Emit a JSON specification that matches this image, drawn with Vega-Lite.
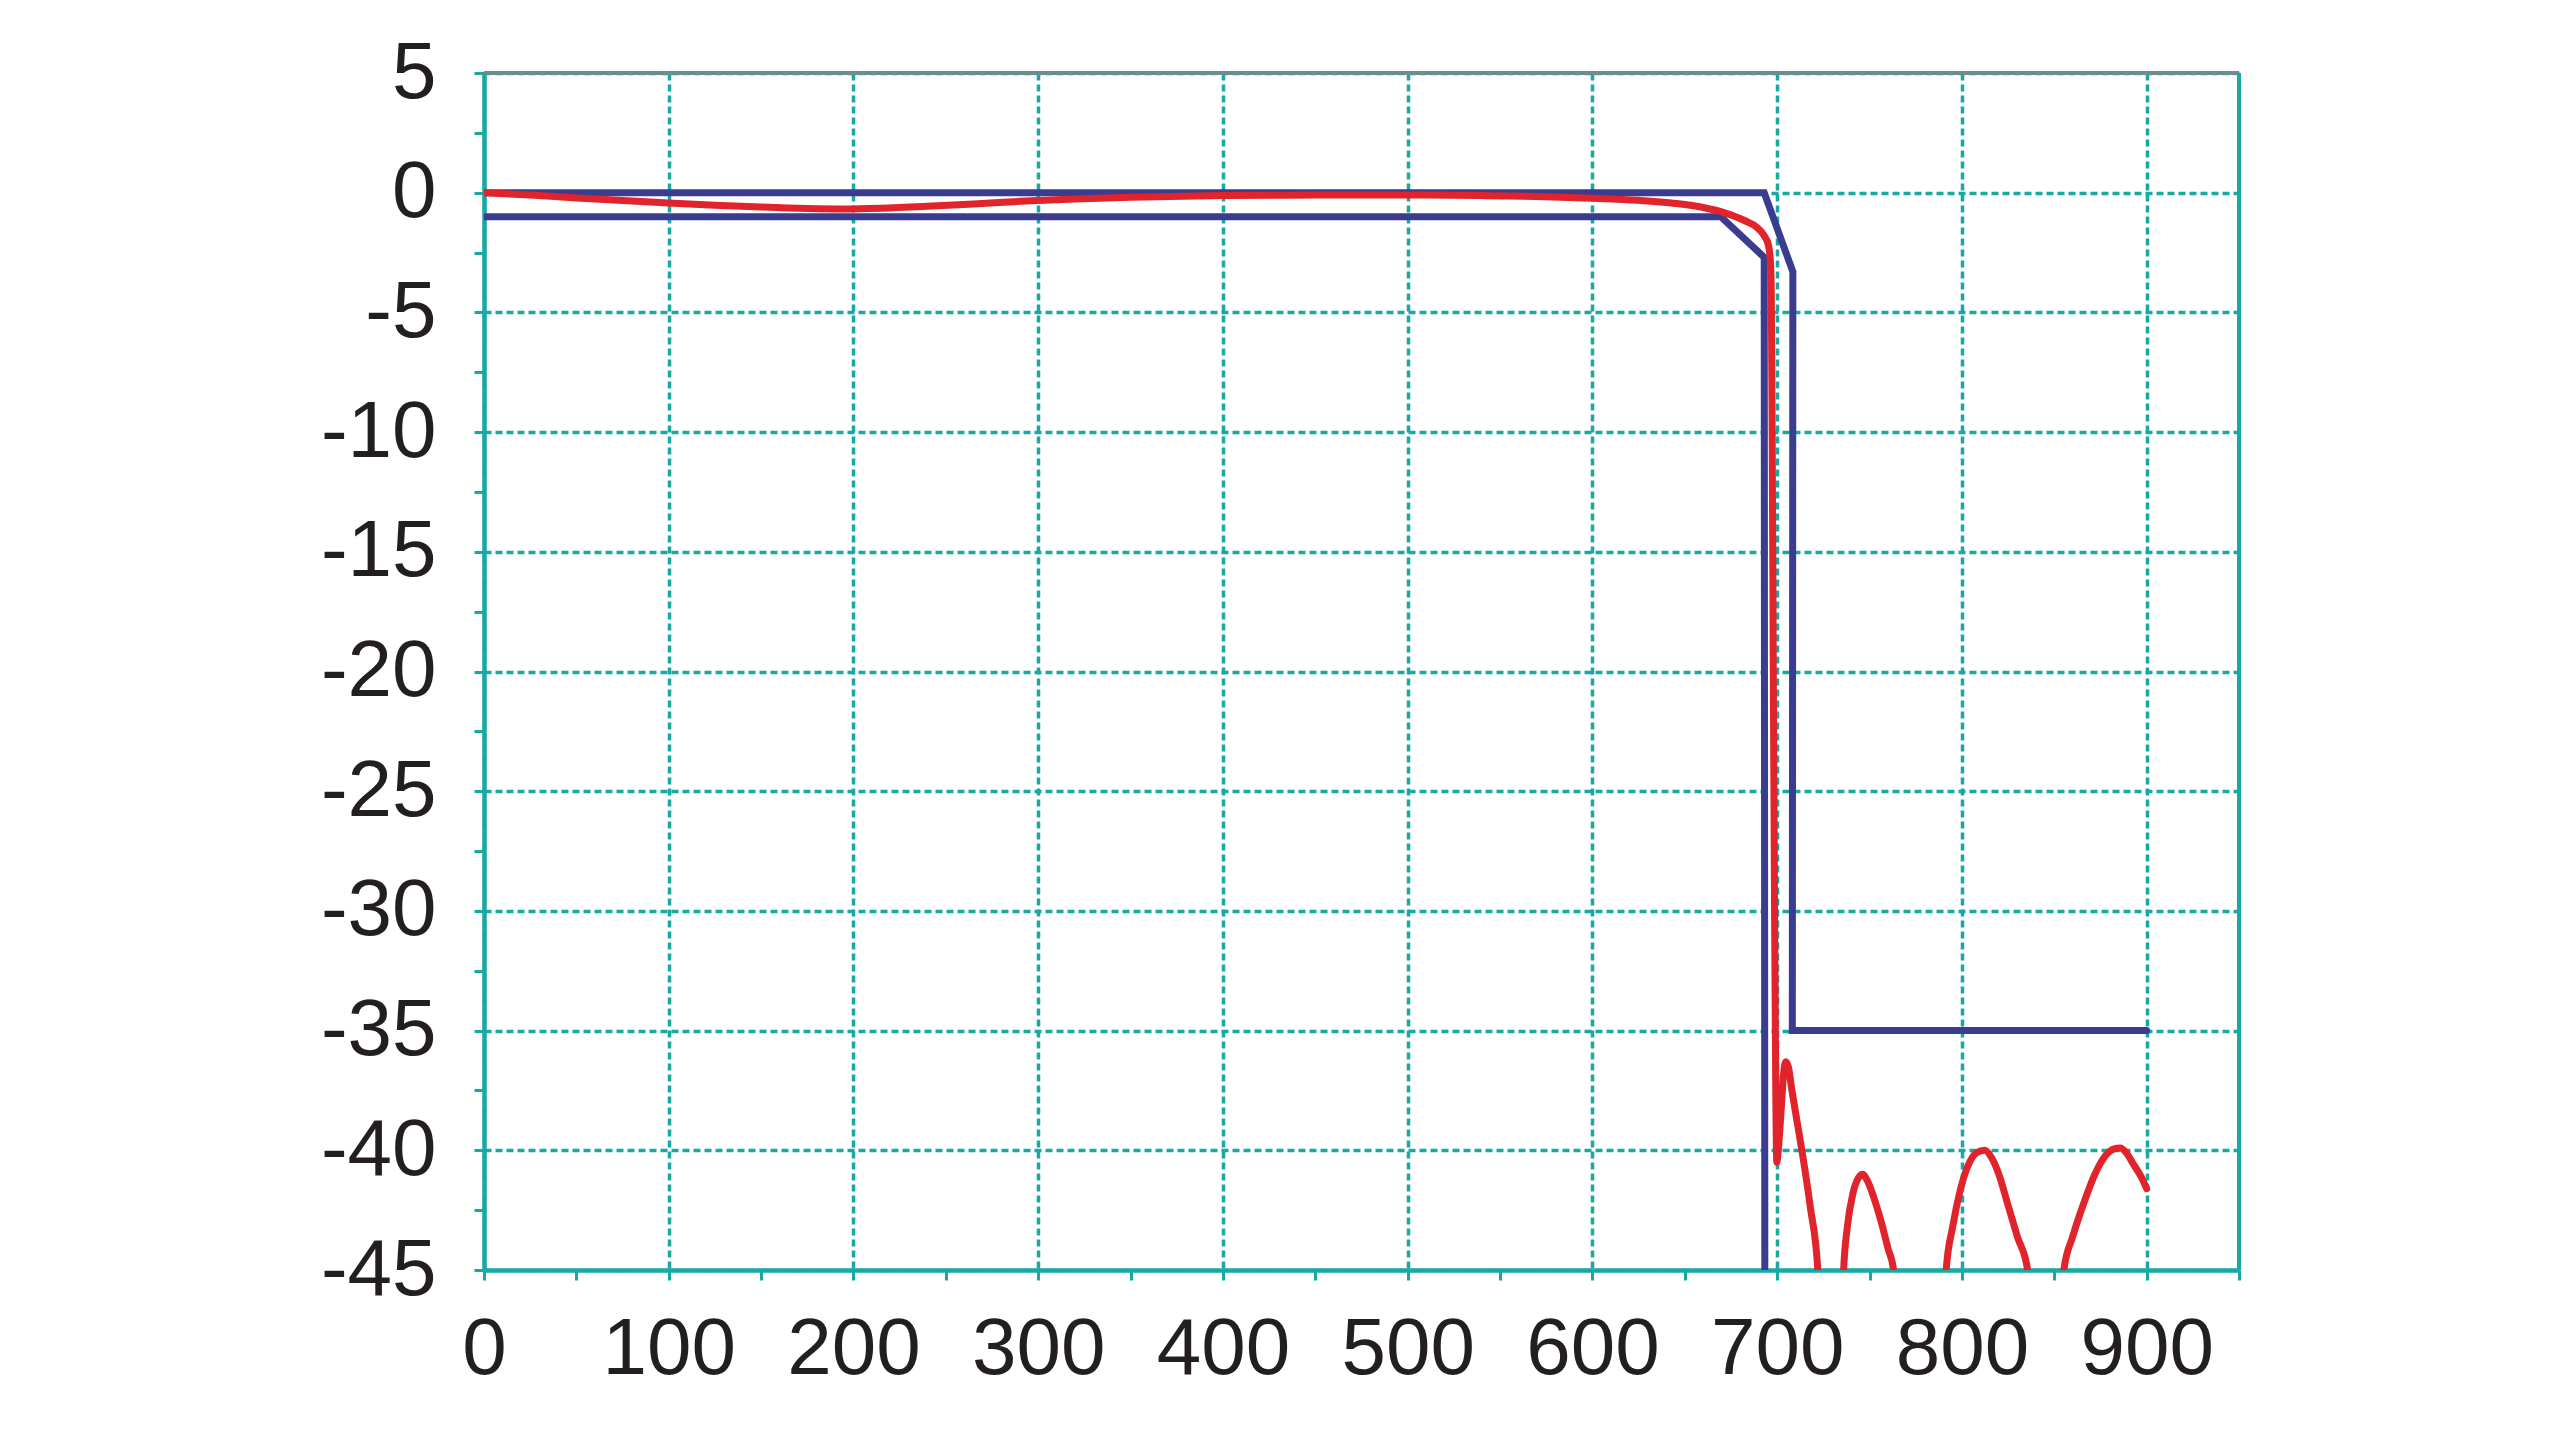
{
  "$schema": "https://vega.github.io/schema/vega-lite/v6.json",
  "autosize": {"type": "none"},
  "padding": {"left": 484, "top": 73, "right": 321, "bottom": 170},
  "width": 1755,
  "height": 1197,
  "background": "white",
  "config": {
    "view": {"stroke": null},
    "axis": {
      "domainColor": "#19a9a4",
      "domainWidth": 4.5,
      "tickColor": "#19a9a4",
      "tickWidth": 3,
      "tickSize": 10,
      "gridColor": "#19a9a4",
      "gridWidth": 3.5,
      "gridDash": [7, 4],
      "labelFont": "Liberation Sans",
      "labelFontSize": 80,
      "labelColor": "#231f20",
      "labelOverlap": false,
      "labelFlush": false,
      "title": null
    }
  },
  "data": {
    "values": [
      {"s": "upper", "x": 0, "y": 0},
      {"s": "upper", "x": 693, "y": 0},
      {"s": "upper", "x": 708.5, "y": -3.3},
      {"s": "upper", "x": 708.2, "y": -35},
      {"s": "upper", "x": 900, "y": -35},
      {"s": "lower", "x": 0, "y": -1},
      {"s": "lower", "x": 669.5, "y": -1},
      {"s": "lower", "x": 693, "y": -2.7},
      {"s": "lower", "x": 693.4, "y": -55},
      {"s": "resp", "x": 0, "y": 0},
      {"s": "resp", "x": 25, "y": -0.1},
      {"s": "resp", "x": 50, "y": -0.22},
      {"s": "resp", "x": 75, "y": -0.33},
      {"s": "resp", "x": 100, "y": -0.43},
      {"s": "resp", "x": 125, "y": -0.52},
      {"s": "resp", "x": 150, "y": -0.6},
      {"s": "resp", "x": 175, "y": -0.66},
      {"s": "resp", "x": 195, "y": -0.68},
      {"s": "resp", "x": 215, "y": -0.65},
      {"s": "resp", "x": 240, "y": -0.57},
      {"s": "resp", "x": 265, "y": -0.47},
      {"s": "resp", "x": 290, "y": -0.36},
      {"s": "resp", "x": 320, "y": -0.26},
      {"s": "resp", "x": 350, "y": -0.19},
      {"s": "resp", "x": 400, "y": -0.12},
      {"s": "resp", "x": 450, "y": -0.1},
      {"s": "resp", "x": 500, "y": -0.1},
      {"s": "resp", "x": 540, "y": -0.12},
      {"s": "resp", "x": 570, "y": -0.16},
      {"s": "resp", "x": 600, "y": -0.23},
      {"s": "resp", "x": 625, "y": -0.32},
      {"s": "resp", "x": 645, "y": -0.45},
      {"s": "resp", "x": 660, "y": -0.62},
      {"s": "resp", "x": 672, "y": -0.85},
      {"s": "resp", "x": 682, "y": -1.15},
      {"s": "resp", "x": 689, "y": -1.45},
      {"s": "resp", "x": 693, "y": -1.8},
      {"s": "resp", "x": 695.3, "y": -2.2},
      {"s": "resp", "x": 696.3, "y": -2.8},
      {"s": "resp", "x": 696.8, "y": -4},
      {"s": "resp", "x": 697.3, "y": -10},
      {"s": "resp", "x": 697.9, "y": -20},
      {"s": "resp", "x": 698.6, "y": -30},
      {"s": "resp", "x": 699.2, "y": -37},
      {"s": "resp", "x": 699.8, "y": -40.5},
      {"s": "resp", "x": 700.5, "y": -40.1},
      {"s": "resp", "x": 702, "y": -38.5},
      {"s": "resp", "x": 703.5, "y": -36.8},
      {"s": "resp", "x": 704.6, "y": -36.3},
      {"s": "resp", "x": 706, "y": -36.5},
      {"s": "resp", "x": 708, "y": -37.5},
      {"s": "resp", "x": 711, "y": -38.9},
      {"s": "resp", "x": 714, "y": -40.3},
      {"s": "resp", "x": 718, "y": -42.4},
      {"s": "resp", "x": 722, "y": -45},
      {"s": "resp", "x": 724, "y": -52},
      {"s": "resp", "x": 734, "y": -52},
      {"s": "resp", "x": 736, "y": -45},
      {"s": "resp", "x": 738, "y": -43.2},
      {"s": "resp", "x": 741, "y": -41.8},
      {"s": "resp", "x": 744, "y": -41.15},
      {"s": "resp", "x": 746.3, "y": -41},
      {"s": "resp", "x": 749, "y": -41.3},
      {"s": "resp", "x": 752, "y": -41.9},
      {"s": "resp", "x": 756, "y": -42.9},
      {"s": "resp", "x": 760, "y": -44.1},
      {"s": "resp", "x": 763, "y": -45},
      {"s": "resp", "x": 765, "y": -52},
      {"s": "resp", "x": 789, "y": -52},
      {"s": "resp", "x": 791.5, "y": -45},
      {"s": "resp", "x": 795, "y": -43.2},
      {"s": "resp", "x": 799, "y": -41.7},
      {"s": "resp", "x": 803, "y": -40.7},
      {"s": "resp", "x": 808, "y": -40.1},
      {"s": "resp", "x": 812.3, "y": -40},
      {"s": "resp", "x": 816, "y": -40.3},
      {"s": "resp", "x": 820, "y": -41},
      {"s": "resp", "x": 825, "y": -42.3},
      {"s": "resp", "x": 830, "y": -43.6},
      {"s": "resp", "x": 835.6, "y": -45},
      {"s": "resp", "x": 838, "y": -52},
      {"s": "resp", "x": 852, "y": -52},
      {"s": "resp", "x": 855.2, "y": -45},
      {"s": "resp", "x": 860, "y": -43.6},
      {"s": "resp", "x": 866, "y": -42.2},
      {"s": "resp", "x": 872, "y": -41},
      {"s": "resp", "x": 878, "y": -40.2},
      {"s": "resp", "x": 882, "y": -39.95},
      {"s": "resp", "x": 885.8, "y": -39.9},
      {"s": "resp", "x": 889, "y": -40.1},
      {"s": "resp", "x": 893, "y": -40.6},
      {"s": "resp", "x": 897, "y": -41.1},
      {"s": "resp", "x": 900, "y": -41.6}
    ]
  },
  "encoding": {
    "x": {
      "field": "x",
      "type": "quantitative",
      "scale": {"domain": [0, 950], "nice": false, "zero": false},
      "axis": {
        "values": [0, 50, 100, 150, 200, 250, 300, 350, 400, 450, 500, 550, 600, 650, 700, 750, 800, 850, 900, 950],
        "labelExpr": "(datum.value % 100 === 0 && datum.value <= 900) ? toString(datum.value) : ''",
        "labelPadding": 30,
        "gridOpacity": {"condition": {"test": "datum.value % 100 === 0", "value": 1}, "value": 0}
      }
    },
    "y": {
      "field": "y",
      "type": "quantitative",
      "scale": {"domain": [-45, 5], "nice": false, "zero": false},
      "axis": {
        "values": [-45, -42.5, -40, -37.5, -35, -32.5, -30, -27.5, -25, -22.5, -20, -17.5, -15, -12.5, -10, -7.5, -5, -2.5, 0, 2.5, 5],
        "labelExpr": "(datum.value % 5 === 0) ? toString(datum.value) : ''",
        "labelPadding": 38,
        "gridOpacity": {"condition": {"test": "datum.value % 5 === 0", "value": 1}, "value": 0}
      }
    }
  },
  "layer": [
    {
      "transform": [{"filter": "datum.s !== 'resp'"}],
      "mark": {"type": "line", "color": "#3a3d8f", "strokeWidth": 7, "clip": true, "strokeCap": "round"},
      "encoding": {"detail": {"field": "s"}, "order": {"value": null}}
    },
    {
      "transform": [{"filter": "datum.s === 'resp'"}],
      "mark": {"type": "line", "color": "#e1232b", "strokeWidth": 7, "clip": true, "strokeCap": "round", "strokeJoin": "round", "interpolate": "monotone"}
    },
    {
      "mark": {"type": "rule", "color": "#6a8f92", "strokeWidth": 4},
      "encoding": {"y": {"datum": 5}, "x": {"datum": 0}, "x2": {"datum": 950}}
    },
    {
      "mark": {"type": "rule", "color": "#19a9a4", "strokeWidth": 4},
      "encoding": {"x": {"datum": 950}, "y": {"datum": -45}, "y2": {"datum": 5}}
    }
  ]
}
